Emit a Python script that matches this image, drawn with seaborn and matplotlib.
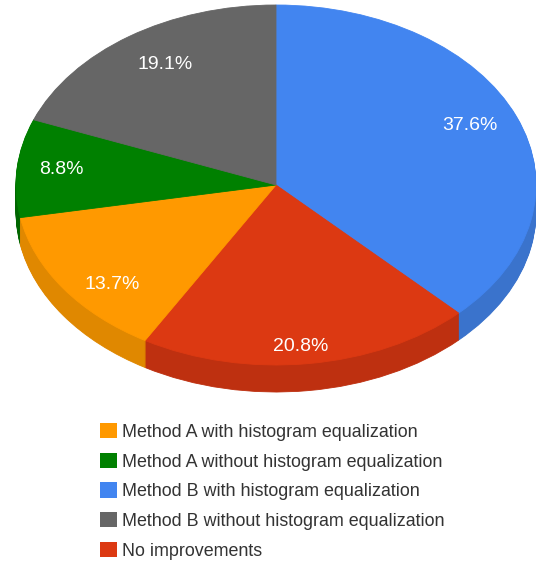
import matplotlib
matplotlib.use("Agg")
import matplotlib.pyplot as plt
import seaborn as sns
from matplotlib.patches import Patch

sns.set_theme(style="white")
plt.rcParams['font.family'] = ['Liberation Sans', 'DejaVu Sans']

categories = ["Method B with histogram equalization", "No improvements",
              "Method A with histogram equalization", "Method A without histogram equalization",
              "Method B without histogram equalization"]
values = [37.6, 20.8, 13.7, 8.8, 19.1]
labels = ["37.6%", "20.8%", "13.7%", "8.8%", "19.1%"]
colors = ["#4285F0", "#DC3912", "#FF9900", "#008000", "#666666"]
dark = ["#3A73CC", "#BE3010", "#E08800", "#006600", "#555555"]
legend_order = [2, 3, 0, 4, 1]

W, H = 536, 564
fig = plt.figure(figsize=(W/100, H/100), dpi=100, facecolor="white")
ax = fig.add_axes([0, 0, 1, 1])

cx, cy, rx, ry, depth = 276, 185, 260, 180, 27
for d in range(depth, 0, -1):
    w, _ = ax.pie(values, colors=dark, startangle=90, counterclock=False, radius=1,
                  center=(0, -d/ry), frame=False, wedgeprops=dict(linewidth=0.6))
    for p, c in zip(w, dark):
        p.set_edgecolor(c)
wedges, _ = ax.pie(values, colors=colors, startangle=90, counterclock=False, radius=1,
                   center=(0, 0), frame=False, wedgeprops=dict(linewidth=0.6))
for p, c in zip(wedges, colors):
    p.set_edgecolor(c)
ax.set_aspect("auto")
ax.set_xlim(-cx/rx, (W-cx)/rx)
ax.set_ylim(-(H-cy)/ry, cy/ry)
ax.axis("off")

pos = [(470, 126), (301, 347), (112, 285), (61, 170), (165, 65)]
for (x, y), t in zip(pos, labels):
    ax.text((x-cx)/rx, -(y-cy)/ry, t, color="white", fontsize=14, ha="center", va="center")

handles = [Patch(facecolor=colors[i], edgecolor=colors[i], linewidth=0) for i in legend_order]
names = [categories[i] for i in legend_order]
ax.legend(handles, names, loc="upper left", bbox_to_anchor=(100/W, 1-423/H), frameon=False,
          fontsize=12.85, handlelength=0.95, handleheight=0.95, handletextpad=0.28, labelspacing=0.665,
          labelcolor="#333333", borderpad=0, borderaxespad=0)
fig.savefig("out.png", dpi=100)
